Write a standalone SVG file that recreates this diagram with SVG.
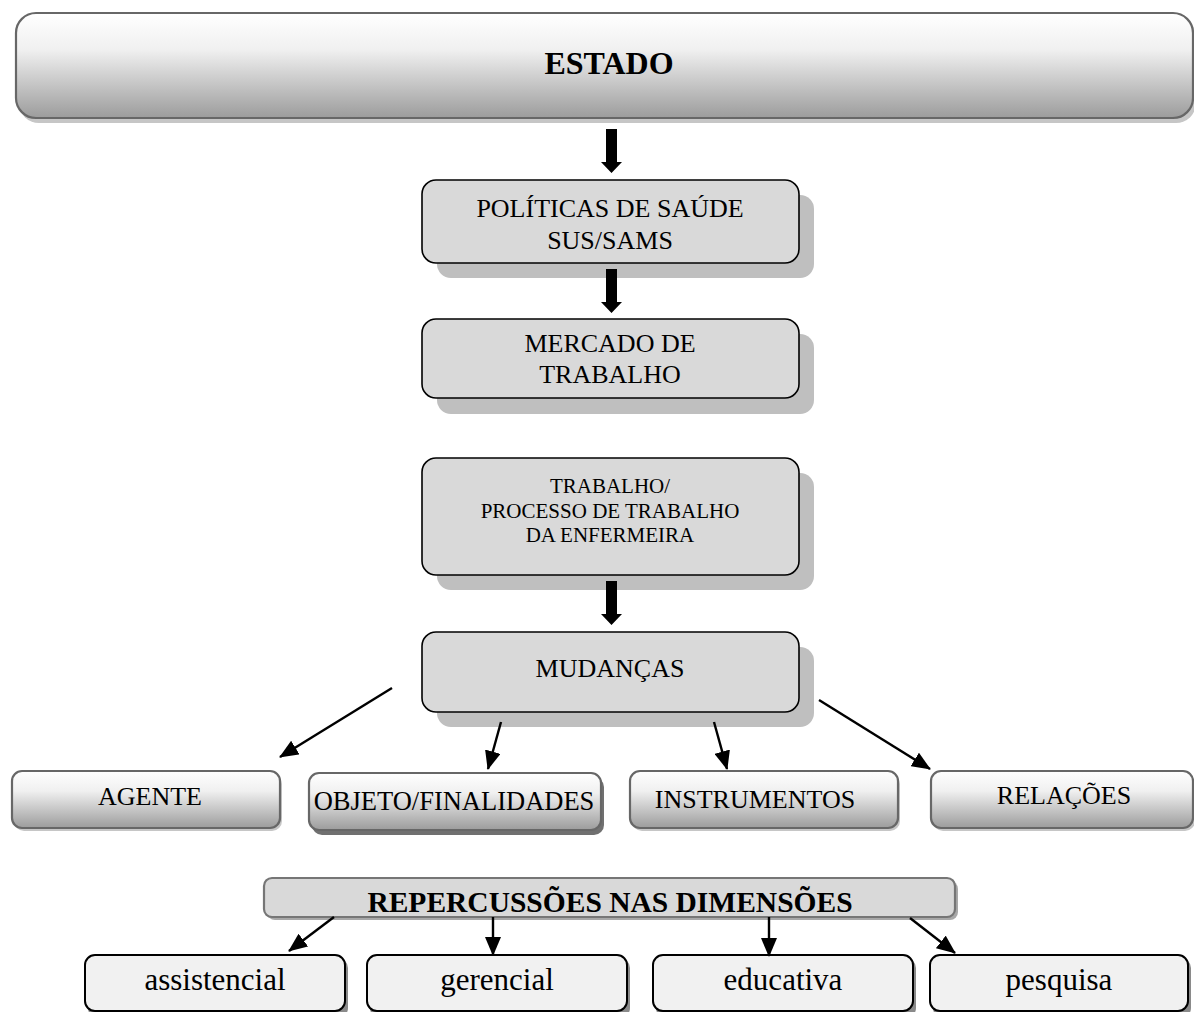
<svg xmlns="http://www.w3.org/2000/svg" width="1194" height="1012" viewBox="0 0 1194 1012">
  <defs>
    <linearGradient id="gloss" x1="0" y1="0" x2="0" y2="1">
      <stop offset="0" stop-color="#ffffff"/>
      <stop offset="0.35" stop-color="#f0f0f0"/>
      <stop offset="1" stop-color="#9c9c9c"/>
    </linearGradient>
    <path id="blockArrow" d="M-5.5,0 H5.5 V33 H10.5 L0,44 L-10.5,33 H-5.5 Z" fill="#000"/>
    <marker id="head" viewBox="0 0 19 16" refX="18" refY="8" markerWidth="19" markerHeight="16" markerUnits="userSpaceOnUse" orient="auto">
      <path d="M0,0 L19,8 L0,16 Z" fill="#000"/>
    </marker>
    <style>
      .txt { font-family: "Liberation Serif", "Times New Roman", serif; fill: #000; text-anchor: middle; }
      .main { fill: #d9d9d9; stroke: #000; stroke-width: 1.6; }
      .mainShadow { fill: #bfbfbf; }
      .glossBox { fill: url(#gloss); stroke: #676767; stroke-width: 2.2; }
      .glossShadow { fill: #c6c6c6; }
      .dimBox { fill: #f1f1f1; stroke: #000; stroke-width: 2; }
      .dimShadow { fill: #8a8a8a; }
      .link { stroke: #000; stroke-width: 2.4; fill: none; marker-end: url(#head); }
    </style>
  </defs>

  <rect width="1194" height="1012" fill="#fff"/>

  <!-- top banner -->
  <g id="estado">
    <rect class="glossShadow" x="19" y="17" width="1177" height="106" rx="20"/>
    <rect class="glossBox" x="16" y="13" width="1177" height="105" rx="20"/>
    <text class="txt" x="609" y="74" font-size="32" font-weight="bold">ESTADO</text>
  </g>

  <g id="politicas">
    <rect class="mainShadow" x="437" y="195" width="377" height="83" rx="14"/>
    <rect class="main" x="422" y="180" width="377" height="83" rx="14"/>
    <text class="txt" x="610" y="217" font-size="26">POLÍTICAS DE SAÚDE</text>
    <text class="txt" x="610" y="249" font-size="26">SUS/SAMS</text>
  </g>

  <g id="mercado">
    <rect class="mainShadow" x="437" y="334" width="377" height="80" rx="14"/>
    <rect class="main" x="422" y="319" width="377" height="79" rx="14"/>
    <text class="txt" x="610" y="352" font-size="26">MERCADO DE</text>
    <text class="txt" x="610" y="383" font-size="26">TRABALHO</text>
  </g>

  <g id="trabalho">
    <rect class="mainShadow" x="437" y="473" width="377" height="117" rx="14"/>
    <rect class="main" x="422" y="458" width="377" height="117" rx="14"/>
    <text class="txt" x="610" y="493" font-size="21">TRABALHO/</text>
    <text class="txt" x="610" y="518" font-size="21">PROCESSO DE TRABALHO</text>
    <text class="txt" x="610" y="542" font-size="21">DA ENFERMEIRA</text>
  </g>

  <g id="mudancas">
    <rect class="mainShadow" x="437" y="647" width="377" height="80" rx="14"/>
    <rect class="main" x="422" y="632" width="377" height="80" rx="14"/>
    <text class="txt" x="610" y="677" font-size="26">MUDANÇAS</text>
  </g>

  <g id="agente">
    <rect class="glossShadow" x="14" y="774" width="268" height="57" rx="10"/>
    <rect class="glossBox" x="12" y="771" width="268" height="57" rx="10"/>
    <text class="txt" x="150" y="805" font-size="26">AGENTE</text>
  </g>

  <g id="objeto">
    <rect x="312" y="777" width="292" height="58" rx="10" fill="#707070"/>
    <rect class="glossBox" x="309" y="773" width="292" height="57" rx="10"/>
    <text class="txt" x="454" y="810" font-size="26.5">OBJETO/FINALIDADES</text>
  </g>

  <g id="instrumentos">
    <rect class="glossShadow" x="632" y="774" width="268" height="57" rx="10"/>
    <rect class="glossBox" x="630" y="771" width="268" height="57" rx="10"/>
    <text class="txt" x="755" y="808" font-size="26">INSTRUMENTOS</text>
  </g>

  <g id="relacoes">
    <rect class="glossShadow" x="933" y="774" width="262" height="57" rx="10"/>
    <rect class="glossBox" x="931" y="771" width="262" height="57" rx="10"/>
    <text class="txt" x="1064" y="804" font-size="26">RELAÇÕES</text>
  </g>

  <g id="repercussoes">
    <rect x="267" y="881" width="691" height="39" rx="8" fill="#a8a8a8"/>
    <rect x="264" y="878" width="691" height="39" rx="8" fill="#d9d9d9" stroke="#767676" stroke-width="2.2"/>
    <text class="txt" x="610" y="912" font-size="29.5" font-weight="bold">REPERCUSSÕES NAS DIMENSÕES</text>
  </g>

  <g id="assistencial">
    <rect class="dimShadow" x="88" y="958" width="260" height="60" rx="10"/>
    <rect class="dimBox" x="85" y="955" width="260" height="56" rx="10"/>
    <text class="txt" x="215" y="990" font-size="31">assistencial</text>
  </g>

  <g id="gerencial">
    <rect class="dimShadow" x="370" y="958" width="260" height="60" rx="10"/>
    <rect class="dimBox" x="367" y="955" width="260" height="56" rx="10"/>
    <text class="txt" x="497" y="990" font-size="31">gerencial</text>
  </g>

  <g id="educativa">
    <rect class="dimShadow" x="656" y="958" width="260" height="60" rx="10"/>
    <rect class="dimBox" x="653" y="955" width="260" height="56" rx="10"/>
    <text class="txt" x="783" y="990" font-size="31">educativa</text>
  </g>

  <g id="pesquisa">
    <rect class="dimShadow" x="933" y="958" width="258" height="60" rx="10"/>
    <rect class="dimBox" x="930" y="955" width="258" height="56" rx="10"/>
    <text class="txt" x="1059" y="990" font-size="31">pesquisa</text>
  </g>

  <!-- connectors -->
  <g id="connectors">
    <use href="#blockArrow" x="611.5" y="129"/>
    <use href="#blockArrow" x="611.5" y="269"/>
    <use href="#blockArrow" x="611.5" y="581"/>

    <line class="link" x1="392" y1="688" x2="280" y2="757"/>
    <line class="link" x1="501" y1="722" x2="488" y2="769"/>
    <line class="link" x1="714" y1="722" x2="727" y2="769"/>
    <line class="link" x1="819" y1="700" x2="930" y2="769"/>

    <line class="link" x1="334" y1="917" x2="289" y2="951"/>
    <line class="link" x1="493" y1="917" x2="493" y2="955"/>
    <line class="link" x1="769" y1="917" x2="769" y2="956"/>
    <line class="link" x1="910" y1="918" x2="955" y2="953"/>
  </g>
</svg>
